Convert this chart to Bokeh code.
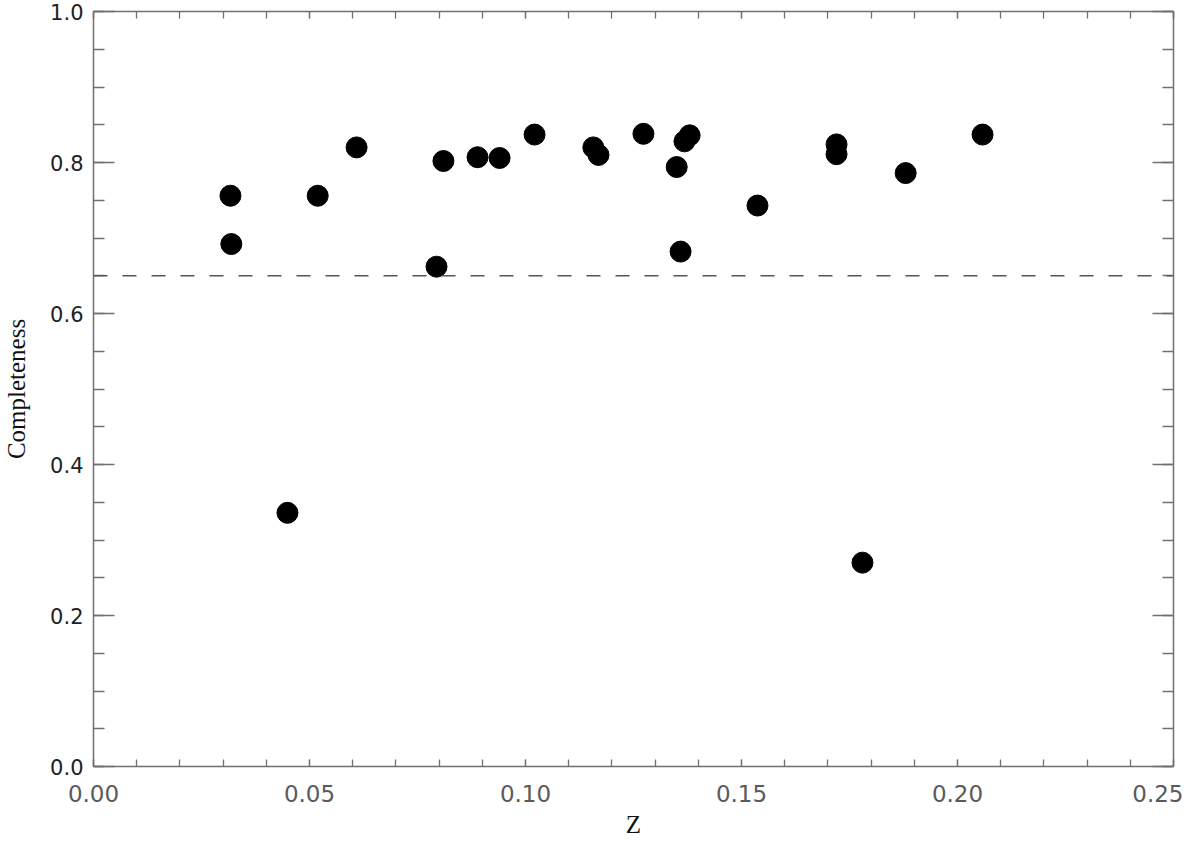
from bokeh.plotting import figure
from bokeh.models import (LinearAxis, Span, SingleIntervalTicker, NumeralTickFormatter,
                          CustomJSTickFormatter, Range1d, ColumnDataSource)
from bokeh.embed import file_html
from bokeh.resources import INLINE

# Data
z = [0.0317, 0.0319, 0.0449, 0.0519, 0.0609, 0.0794, 0.0810, 0.0889, 0.0940,
     0.1021, 0.1157, 0.1169, 0.1273, 0.1350, 0.1359, 0.1368, 0.1380, 0.1537,
     0.1720, 0.1720, 0.1780, 0.1880, 0.2058]
completeness = [0.756, 0.692, 0.336, 0.756, 0.820, 0.662, 0.802, 0.807, 0.806,
                0.837, 0.820, 0.810, 0.838, 0.794, 0.682, 0.828, 0.836, 0.743,
                0.824, 0.811, 0.270, 0.786, 0.837]
threshold = 0.65
x_range = (0.0, 0.25)
y_range = (0.0, 1.0)
x_major_step = 0.05
y_major_step = 0.2

AX = "#707070"

p = figure(width=1183, height=840, output_backend="svg", toolbar_location=None,
           x_range=Range1d(*x_range), y_range=Range1d(*y_range),
           x_axis_label="Z", y_axis_label="Completeness",
           min_border_left=93, min_border_right=10, min_border_top=11, min_border_bottom=72)
p.grid.visible = False
p.outline_line_color = None
p.background_fill_color = "white"

def style(ax, major_in, minor_in):
    ax.axis_line_color = AX
    ax.axis_line_width = 1.5
    ax.major_tick_line_color = AX
    ax.minor_tick_line_color = AX
    ax.major_tick_line_width = 1.3
    ax.minor_tick_line_width = 1.3
    ax.major_tick_out = 0
    ax.minor_tick_out = 0
    ax.major_tick_in = major_in
    ax.minor_tick_in = minor_in

def xticker():
    return SingleIntervalTicker(interval=x_major_step, num_minor_ticks=5)

def yticker():
    return SingleIntervalTicker(interval=y_major_step, num_minor_ticks=4)

xa = p.xaxis[0]
xa.ticker = xticker()
xa.formatter = NumeralTickFormatter(format="0.00")
style(xa, 7, 7)
xa.major_label_text_font = "DejaVu Sans"
xa.major_label_text_font_size = "23px"
xa.major_label_text_color = "#5a5a5a"
xa.major_label_standoff = 18
xa.axis_label_text_font = "Liberation Serif"
xa.axis_label_text_font_style = "normal"
xa.axis_label_text_font_size = "25px"
xa.axis_label_text_color = "#111111"
xa.axis_label_standoff = 6

ya = p.yaxis[0]
ya.ticker = yticker()
ya.formatter = NumeralTickFormatter(format="0.0")
style(ya, 21, 11)
ya.major_label_text_font = "DejaVu Sans"
ya.major_label_text_font_size = "21px"
ya.major_label_text_color = "#222222"
ya.major_label_standoff = 10
ya.axis_label_text_font = "Liberation Serif"
ya.axis_label_text_font_style = "normal"
ya.axis_label_text_font_size = "25px"
ya.axis_label_text_color = "#111111"
ya.axis_label_standoff = 17

blank = CustomJSTickFormatter(code="return ''")

top = LinearAxis(ticker=xticker(), formatter=blank)
style(top, 7, 7)
top.major_label_standoff = 0
p.add_layout(top, "above")

right = LinearAxis(ticker=yticker(), formatter=blank)
style(right, 21, 11)
right.major_label_standoff = 0
p.add_layout(right, "right")

p.add_layout(Span(location=threshold, dimension="width", line_color="#555555",
                  line_width=1.3, line_dash="14 15"))

src = ColumnDataSource(dict(z=z, c=completeness))
p.scatter("z", "c", source=src, size=21, fill_color="black", line_color="black")

open("out.html", "w").write(file_html(p, INLINE))
